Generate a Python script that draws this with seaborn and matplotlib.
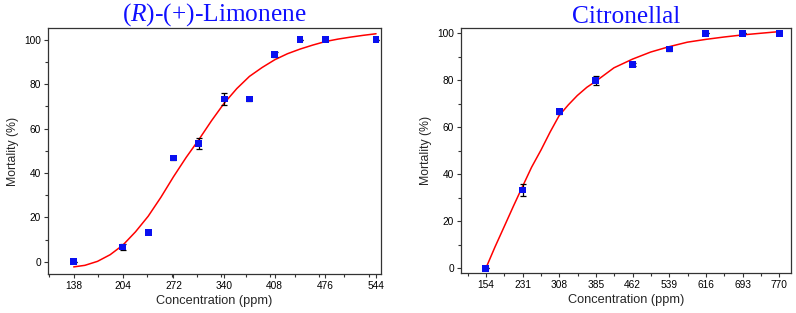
import pandas as pd
import matplotlib.pyplot as plt
import seaborn as sns
from matplotlib.ticker import AutoMinorLocator

# (R)-(+)-Limonene
lim_conc = [138, 204, 238, 272, 306, 340, 374, 408, 442, 476, 544]
lim_mort = [0, 6.7, 13.3, 46.7, 53.3, 73.3, 73.3, 93.3, 100, 100, 100]
lim_err = [0, 1.5, 1.0, 1.0, 2.5, 2.5, 1.0, 1.0, 0, 0, 0]
lim_fit_x = [138, 153, 170, 187, 204, 221, 238, 255, 272, 289, 306, 323, 340,
             357, 374, 391, 408, 425, 442, 459, 476, 493, 510, 527, 544]
lim_fit_y = [-2.3, -1.6, 0.2, 3.2, 7.5, 13.5, 20.5, 29, 38.3, 47, 55, 63.5, 71.4,
             78, 83.5, 87.5, 91, 93.7, 95.8, 97.6, 99.2, 100.3, 101.2, 102, 102.7]
lim_ticks = [138, 204, 272, 340, 408, 476, 544]

# Citronellal
cit_conc = [154, 231, 308, 385, 462, 539, 616, 693, 770]
cit_mort = [0, 33.3, 66.7, 80, 86.7, 93.3, 100, 100, 100]
cit_err = [0, 2.5, 1.2, 2.0, 0.5, 1.0, 0, 0, 0]
cit_fit_x = [154, 173, 192, 212, 231, 250, 270, 289, 308, 327, 346, 366, 385,
             423, 462, 500, 539, 577, 616, 654, 693, 731, 770]
cit_fit_y = [0, 9, 17.5, 26.5, 34.8, 43, 50.4, 58, 65, 69.5, 73.5, 77, 79.6,
             85.3, 89, 92, 94.3, 96.2, 97.4, 98.4, 99.3, 100, 100.7]
cit_ticks = [154, 231, 308, 385, 462, 539, 616, 693, 770]

sns.set_style("ticks")
plt.rcParams['font.family'] = ['Liberation Sans', 'DejaVu Sans']
plt.rcParams['mathtext.fontset'] = 'custom'
plt.rcParams['mathtext.rm'] = 'Liberation Serif'
plt.rcParams['mathtext.it'] = 'Liberation Serif:italic'

fig = plt.figure(figsize=(7.96, 3.13), dpi=100)
ax1 = fig.add_axes([0.0603, 0.1246, 0.4184, 0.786])
ax2 = fig.add_axes([0.579, 0.128, 0.4146, 0.783])

panels = [
    (ax1, lim_conc, lim_mort, lim_err, lim_fit_x, lim_fit_y, lim_ticks,
     (103.5, 550.7), (-5.5, 105.3), "($\\mathit{R}$)-(+)-Limonene"),
    (ax2, cit_conc, cit_mort, cit_err, cit_fit_x, cit_fit_y, cit_ticks,
     (101.5, 794.6), (-2, 102.3), "Citronellal"),
]

for ax, x, y, err, fx, fy, ticks, xlim, ylim, title in panels:
    sns.lineplot(x=fx, y=fy, color='red', linewidth=1.1, ax=ax, zorder=2)
    ax.errorbar(x, y, yerr=err, fmt='none', ecolor='black', elinewidth=0.9,
                capsize=2, capthick=0.9, zorder=3)
    sns.scatterplot(x=x, y=y, color='#0a10f0', marker='s', s=24,
                    edgecolor='none', ax=ax, zorder=4)
    ax.set_xlim(*xlim)
    ax.set_ylim(*ylim)
    ax.set_xticks(ticks)
    ax.set_yticks([0, 20, 40, 60, 80, 100])
    ax.xaxis.set_minor_locator(AutoMinorLocator(2))
    ax.yaxis.set_minor_locator(AutoMinorLocator(2))
    ax.tick_params(which='major', direction='out', length=3, width=0.8,
                   labelsize=7.3, colors='#333333', labelcolor='black', pad=2)
    ax.tick_params(which='minor', direction='out', length=2, width=0.8,
                   colors='#333333')
    for s in ax.spines.values():
        s.set_visible(True)
        s.set_color('#333333')
        s.set_linewidth(0.9)
    ax.set_xlabel("Concentration (ppm)", fontsize=9.2, labelpad=3)
    ax.set_ylabel("Mortality (%)", fontsize=8.8, labelpad=4)
    ax.set_title(title, fontsize=18.3, color='#1010ff',
                 family=['Liberation Serif', 'DejaVu Serif'], pad=1)

plt.savefig("out.png", dpi=100)
